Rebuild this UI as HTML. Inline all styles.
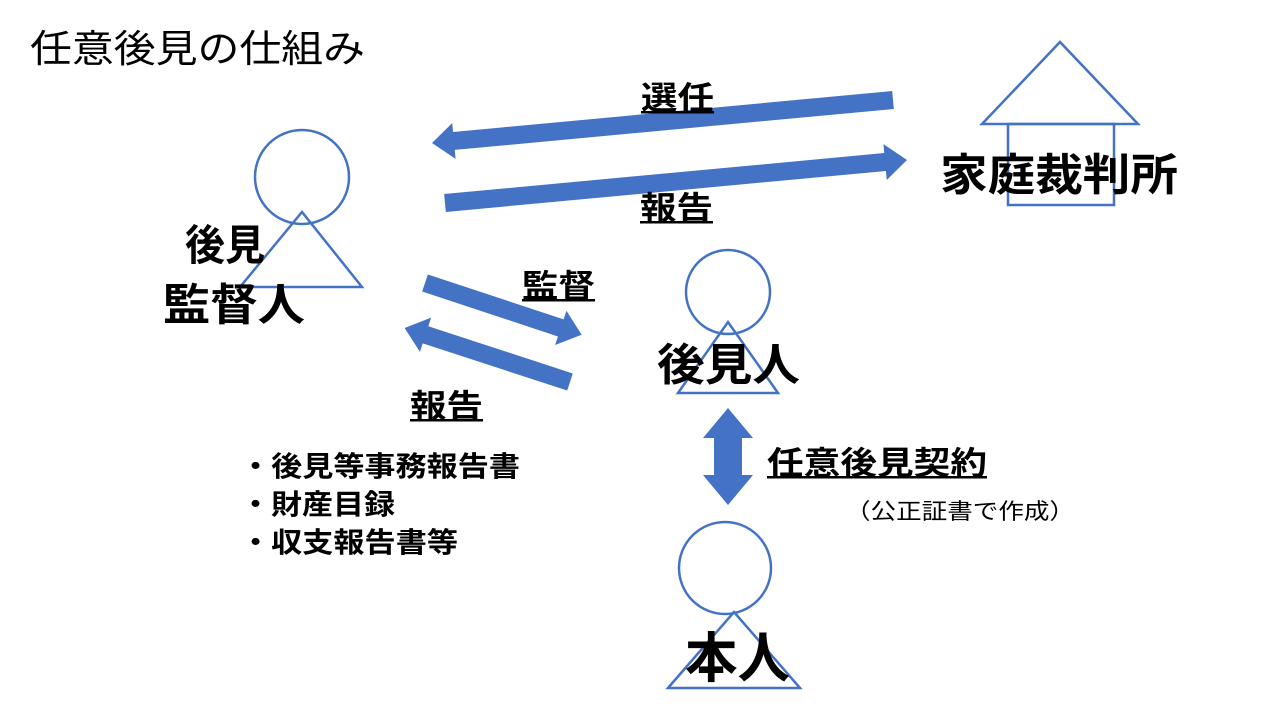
<!DOCTYPE html>
<html><head><meta charset="utf-8"><style>
body{margin:0;background:#fff;}
svg{display:block;font-family:"Liberation Sans","Noto Sans CJK JP",sans-serif;}
.b{font-weight:bold;}
</style></head><body>
<svg width="1280" height="720" viewBox="0 0 1280 720">
<text x="30" y="62" font-size="38" textLength="335" lengthAdjust="spacingAndGlyphs">任意後見の仕組み</text>
<!-- house -->
<polygon points="982,124 1060,42 1138,124" fill="none" stroke="#4472c4" stroke-width="2.5"/>
<rect x="1008" y="124" width="106" height="81" fill="none" stroke="#4472c4" stroke-width="2.5"/>
<text x="940" y="190" font-size="44" class="b" textLength="238" lengthAdjust="spacingAndGlyphs">家庭裁判所</text>
<!-- arrows -->
<g fill="#4472c4">
<polygon transform="translate(893,100) rotate(174.67)" points="0,-9 441,-9 441,-18 463,0 441,18 441,9 0,9"/>
<polygon transform="translate(445,203) rotate(-5.32)" points="0,-9 442,-9 442,-18 464,0 442,18 442,9 0,9"/>
<polygon transform="translate(425,283) rotate(18.3)" points="0,-9 143,-9 143,-18 165,0 143,18 143,9 0,9"/>
<polygon transform="translate(570,382) rotate(198.1)" points="0,-9 152,-9 152,-18 174,0 152,18 152,9 0,9"/>
<polygon points="728,408 753,438 742,438 742,475 753,475 728,505 703,475 714,475 714,438 703,438"/>
</g>
<g class="b" font-size="32">
<text x="641" y="109" textLength="73" lengthAdjust="spacingAndGlyphs">選任</text><rect x="641" y="111" width="73" height="2.5"/>
<text x="640" y="219" textLength="73" lengthAdjust="spacingAndGlyphs">報告</text><rect x="640" y="221" width="73" height="2.5"/>
<text x="522" y="297" textLength="73" lengthAdjust="spacingAndGlyphs">監督</text><rect x="522" y="299" width="73" height="2.5"/>
<text x="410" y="417" textLength="73" lengthAdjust="spacingAndGlyphs">報告</text><rect x="410" y="419" width="73" height="2.5"/>
<text x="767" y="474" textLength="220" lengthAdjust="spacingAndGlyphs">任意後見契約</text><rect x="767" y="476" width="220" height="2.5"/>
</g>
<text x="845" y="519" font-size="22" textLength="230" lengthAdjust="spacingAndGlyphs">（公正証書で作成）</text>
<g font-size="28" class="b">
<text x="240" y="476" textLength="280" lengthAdjust="spacingAndGlyphs">・後見等事務報告書</text>
<text x="240" y="514" textLength="155" lengthAdjust="spacingAndGlyphs">・財産目録</text>
<text x="240" y="552" textLength="218" lengthAdjust="spacingAndGlyphs">・収支報告書等</text>
</g>
<!-- persons -->
<g fill="none" stroke="#4472c4" stroke-width="2.5">
<circle cx="302" cy="177" r="47"/>
<polygon points="240,287 302,212 362,287"/>
<circle cx="728" cy="292" r="42"/>
<polygon points="678,393 728,322 778,393"/>
<circle cx="725" cy="568" r="46"/>
<polygon points="668,688 734,612 800,688"/>
</g>
<g class="b" fill="#000">
<text x="185" y="260" font-size="42" textLength="80" lengthAdjust="spacingAndGlyphs">後見</text>
<text x="163" y="320" font-size="44" textLength="142" lengthAdjust="spacingAndGlyphs">監督人</text>
<text x="657" y="380" font-size="44" textLength="143" lengthAdjust="spacingAndGlyphs">後見人</text>
<text x="685" y="677" font-size="54" textLength="105" lengthAdjust="spacingAndGlyphs">本人</text>
</g>
</svg>
</body></html>
